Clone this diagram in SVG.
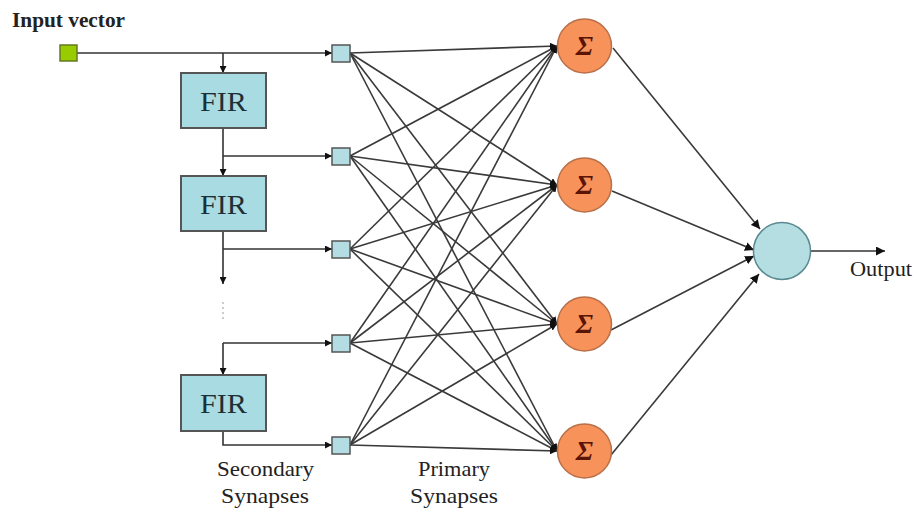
<svg xmlns="http://www.w3.org/2000/svg" width="917" height="510" viewBox="0 0 917 510">
<defs>
<marker id="ah" viewBox="0 0 10 10" refX="10" refY="5" markerWidth="7" markerHeight="7" markerUnits="userSpaceOnUse" orient="auto"><path d="M0,0 L10,5 L0,10 z" fill="#111"/></marker>
<marker id="ah2" viewBox="0 0 10 10" refX="10" refY="5" markerWidth="9" markerHeight="9" markerUnits="userSpaceOnUse" orient="auto"><path d="M0,0 L10,5 L0,10 z" fill="#111"/></marker>
</defs>
<style>
text{font-family:"Liberation Serif","Times New Roman",serif;fill:#222}
.lbl{font-size:21px}
.fir rect{fill:#a9dbe2;stroke:#555;stroke-width:2}
.fir text{font-size:27px;text-anchor:middle;fill:#1e3036}
.syn rect{fill:#b3dde3;stroke:#555;stroke-width:1.5}
.sum circle{fill:#f7925a;stroke:#b8704a;stroke-width:1.5}
.sum text{font-size:28px;font-style:italic;font-weight:bold;fill:#5a1506;text-anchor:middle}
.ln{stroke:#3a3a3a;stroke-width:1.6;fill:none}
.lt{stroke:#333;stroke-width:1.6;fill:none}
</style>
<rect width="917" height="510" fill="#fff"/>
<g id="connectors">
<path class="lt" d="M77,53 H332" marker-end="url(#ah)"/>
<path class="lt" d="M223,53 V73" marker-end="url(#ah)"/>
<path class="lt" d="M223,128 V176" marker-end="url(#ah)"/>
<path class="lt" d="M223,156 H332" marker-end="url(#ah)"/>
<path class="lt" d="M223,231 V284" marker-end="url(#ah)"/>
<path class="lt" d="M223,249 H332" marker-end="url(#ah)"/>
<path d="M223,302 V322" stroke="#999" stroke-width="1" stroke-dasharray="2,3"/>
<path class="lt" d="M223,343 V375" marker-end="url(#ah)"/>
<path class="lt" d="M223,343 H332" marker-end="url(#ah)"/>
<path class="lt" d="M223,431 V445 H332" marker-end="url(#ah)"/>
<g class="ln" marker-end="url(#ah)">
<path d="M350,53 L557,46"/><path d="M350,53 L557,185"/><path d="M350,53 L557,324"/><path d="M350,53 L557,451"/>
<path d="M350,156 L557,46"/><path d="M350,156 L557,185"/><path d="M350,156 L557,324"/><path d="M350,156 L557,451"/>
<path d="M350,249 L557,46"/><path d="M350,249 L557,185"/><path d="M350,249 L557,324"/><path d="M350,249 L557,451"/>
<path d="M350,343 L557,46"/><path d="M350,343 L557,185"/><path d="M350,343 L557,324"/><path d="M350,343 L557,451"/>
<path d="M350,445 L557,46"/><path d="M350,445 L557,185"/><path d="M350,445 L557,324"/><path d="M350,445 L557,451"/>
</g>
<g class="ln" marker-end="url(#ah2)">
<path d="M613,48 L760,229"/>
<path d="M612,191 L754,250"/>
<path d="M611,330 L754,256"/>
<path d="M611,455 L759,274"/>
</g>
<path class="lt" d="M810,251 H885" marker-end="url(#ah2)"/>
</g>
<g id="input"><rect x="60" y="45" width="17" height="16" fill="#99cc00" stroke="#667a20" stroke-width="1.5"/></g>
<text class="lbl" x="12" y="27" font-weight="bold" textLength="113" lengthAdjust="spacingAndGlyphs">Input vector</text>
<g id="fir1" class="fir"><rect x="181" y="73" width="85" height="55"/><text x="223.5" y="111" textLength="47" lengthAdjust="spacingAndGlyphs">FIR</text></g>
<g id="fir2" class="fir"><rect x="181" y="176" width="85" height="55"/><text x="223.5" y="214" textLength="47" lengthAdjust="spacingAndGlyphs">FIR</text></g>
<g id="fir3" class="fir"><rect x="181" y="375" width="85" height="56"/><text x="223.5" y="413" textLength="47" lengthAdjust="spacingAndGlyphs">FIR</text></g>
<g id="syn1" class="syn"><rect x="332" y="45" width="18" height="17"/></g>
<g id="syn2" class="syn"><rect x="332" y="148" width="18" height="17"/></g>
<g id="syn3" class="syn"><rect x="332" y="241" width="18" height="17"/></g>
<g id="syn4" class="syn"><rect x="332" y="335" width="18" height="17"/></g>
<g id="syn5" class="syn"><rect x="332" y="437" width="18" height="17"/></g>
<g id="sum1" class="sum"><circle cx="584.5" cy="46" r="27"/><text x="584.5" y="55">Σ</text></g>
<g id="sum2" class="sum"><circle cx="584.5" cy="185" r="27"/><text x="584.5" y="194">Σ</text></g>
<g id="sum3" class="sum"><circle cx="584.5" cy="324" r="27"/><text x="584.5" y="333">Σ</text></g>
<g id="sum4" class="sum"><circle cx="584.5" cy="451" r="27"/><text x="584.5" y="460">Σ</text></g>
<g id="output"><circle cx="782" cy="251" r="28.5" fill="#b5dee2" stroke="#5a8a90" stroke-width="1.5"/></g>
<text class="lbl" x="850" y="276" textLength="62" lengthAdjust="spacingAndGlyphs">Output</text>
<text class="lbl" x="217" y="476" textLength="97" lengthAdjust="spacingAndGlyphs">Secondary</text>
<text class="lbl" x="221" y="503" textLength="88" lengthAdjust="spacingAndGlyphs">Synapses</text>
<text class="lbl" x="418" y="476" textLength="72" lengthAdjust="spacingAndGlyphs">Primary</text>
<text class="lbl" x="410" y="503" textLength="88" lengthAdjust="spacingAndGlyphs">Synapses</text>
</svg>
